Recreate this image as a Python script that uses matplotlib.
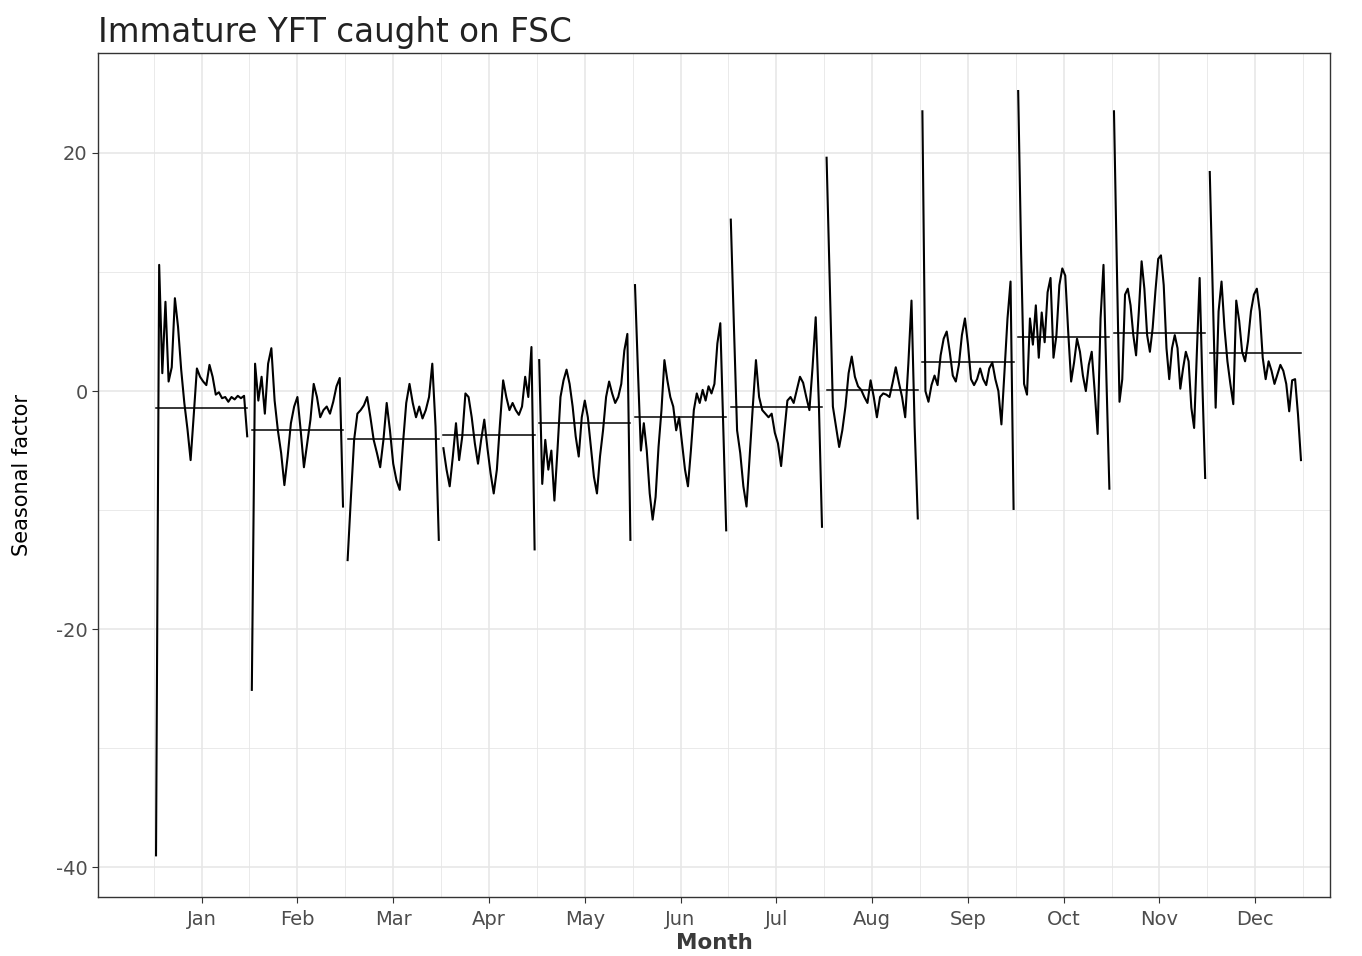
import numpy as np
import matplotlib
matplotlib.use("Agg")
import matplotlib.pyplot as plt

months = ["Jan", "Feb", "Mar", "Apr", "May", "Jun", "Jul", "Aug", "Sep", "Oct", "Nov", "Dec"]

# seasonal factors, one list per month
jan = [-39.0, 10.6, 1.5, 7.5, 0.8, 2.0, 7.8, 5.4, 1.8, -1.0, -3.2, -5.8, -2.0, 1.9, 1.2, 0.8,
       0.5, 2.2, 1.2, -0.3, -0.1, -0.6, -0.5, -0.9, -0.5, -0.7, -0.4, -0.6, -0.4, -3.8]
feb = [-25.1, 2.3, -0.8, 1.2, -1.9, 2.3, 3.6, -0.8, -3.3, -5.2, -7.9, -5.5, -2.7, -1.3, -0.5,
       -3.3, -6.4, -4.4, -2.4, 0.6, -0.5, -2.2, -1.6, -1.3, -1.9, -0.9, 0.4, 1.1, -9.7]
mar = [-14.2, -9.0, -4.1, -1.9, -1.6, -1.2, -0.5, -2.2, -4.1, -5.2, -6.4, -4.1, -1.0, -3.3, -6.1,
       -7.5, -8.3, -4.4, -1.0, 0.6, -1.0, -2.2, -1.3, -2.3, -1.6, -0.5, 2.3, -3.0, -12.5]
apr = [-4.8, -6.6, -8.0, -5.5, -2.7, -5.8, -3.8, -0.2, -0.5, -2.2, -4.4, -6.1, -4.1, -2.4, -4.8,
       -6.9, -8.6, -6.6, -2.7, 0.9, -0.5, -1.6, -1.0, -1.6, -2.0, -1.3, 1.2, -0.5, 3.7, -13.3]
may = [2.6, -7.8, -4.1, -6.6, -5.0, -9.2, -5.0, -0.5, 0.9, 1.8, 0.6, -1.3, -3.8, -5.5, -2.2, -0.8,
       -2.2, -4.7, -7.2, -8.6, -5.5, -3.3, -0.5, 0.8, -0.2, -1.0, -0.5, 0.6, 3.4, 4.8, -12.5]
jun = [8.9, 1.7, -5.0, -2.7, -5.0, -8.6, -10.8, -8.9, -4.7, -1.6, 2.6, 0.9, -0.5, -1.3, -3.3, -2.2,
       -4.4, -6.6, -8.0, -5.0, -1.6, -0.2, -1.0, 0.1, -0.8, 0.4, -0.2, 0.6, 4.0, 5.7, -3.0, -11.7]
jul = [14.4, 5.4, -3.3, -5.2, -8.0, -9.7, -5.5, -1.3, 2.6, -0.5, -1.6, -1.9, -2.2, -1.9, -3.5,
       -4.4, -6.3, -3.5, -0.8, -0.5, -1.0, 0.1, 1.2, 0.7, -0.5, -1.6, 2.0, 6.2, -1.0, -11.4]
aug = [19.6, 9.2, -1.3, -3.0, -4.7, -3.3, -1.3, 1.5, 2.9, 1.2, 0.4, 0.1, -0.5, -1.0, 0.9, -0.5,
       -2.2, -0.5, -0.2, -0.3, -0.5, 0.7, 2.0, 0.7, -0.5, -2.2, 2.3, 7.6, -3.0, -10.7]
sep = [23.5, 0.0, -0.9, 0.5, 1.3, 0.5, 3.0, 4.4, 5.0, 3.3, 1.3, 0.8, 2.2, 4.7, 6.1, 3.9, 1.0,
       0.5, 1.0, 1.9, 1.0, 0.5, 1.9, 2.4, 1.0, 0.0, -2.8, 1.6, 6.1, 9.2, -9.9]
oct = [25.2, 11.6, 0.6, -0.3, 6.1, 3.9, 7.2, 2.8, 6.6, 4.1, 8.3, 9.5, 2.8, 4.7, 8.9, 10.3, 9.7,
       5.0, 0.8, 2.4, 4.4, 3.3, 1.3, 0.0, 2.2, 3.3, 0.0, -3.6, 6.1, 10.6, 1.0, -8.2]
nov = [23.5, 11.0, -0.9, 1.0, 8.1, 8.6, 7.2, 4.7, 3.0, 6.7, 10.9, 8.6, 4.7, 3.3, 5.3, 8.4, 11.1,
       11.4, 8.9, 3.6, 1.0, 3.6, 4.7, 3.6, 0.2, 1.9, 3.3, 2.5, -1.4, -3.1, 3.3, 9.5, 0.5, -7.3]
dec = [18.4, 8.4, -1.4, 6.7, 9.2, 5.3, 2.5, 0.6, -1.1, 7.6, 5.9, 3.3, 2.5, 4.2, 6.7, 8.1, 8.6,
       6.7, 2.8, 1.0, 2.5, 1.7, 0.6, 1.4, 2.2, 1.7, 0.6, -1.7, 0.9, 1.0, -2.0, -5.8]

month_means = [-1.4, -3.3, -4.0, -3.7, -2.7, -2.2, -1.3, 0.1, 2.4, 4.5, 4.9, 3.2]
y_ticks = [-40, -20, 0, 20]

series = [jan, feb, mar, apr, may, jun, jul, aug, sep, oct, nov, dec]

fig = plt.figure(figsize=(13.62, 9.56), dpi=100)
ax = fig.add_axes([0.072, 0.0617, 0.9045, 0.8829])

grid_col = "#e6e6e6"
for x in range(1, 14):
    ax.axvline(x, color=grid_col, lw=0.6, zorder=0)
for x in np.arange(1.5, 13, 1):
    ax.axvline(x, color=grid_col, lw=1.1, zorder=0)
for y in [-30, -10, 10]:
    ax.axhline(y, color=grid_col, lw=0.6, zorder=0)
for y in y_ticks:
    ax.axhline(y, color=grid_col, lw=1.1, zorder=0)

for i, vals in enumerate(series):
    s = i + 1
    xs = s + 0.025 + np.linspace(0, 0.952, len(vals))
    ax.plot(xs, vals, color="black", lw=1.5, zorder=3)
    ax.plot([s + 0.025, s + 0.977], [month_means[i], month_means[i]], color="black", lw=1.1, zorder=4)

ax.set_xlim(0.42, 13.28)
ax.set_ylim(-42.5, 28.4)
ax.set_xticks(np.arange(1.5, 13, 1))
ax.set_xticklabels(months)
ax.set_yticks(y_ticks)
ax.set_yticklabels([str(v) for v in y_ticks])
ax.tick_params(axis="both", colors="#333333", labelcolor="#4d4d4d", labelsize=14, length=4, width=0.8)
ax.tick_params(axis="x", pad=5)

for sp in ax.spines.values():
    sp.set_color("#333333")
    sp.set_linewidth(1.0)

ax.set_xlabel("Month", fontsize=15.5, fontweight="bold", color="#3a3a3a", labelpad=3)
ax.set_ylabel("Seasonal factor", fontsize=15, labelpad=17)
ax.set_title("Immature YFT caught on FSC", loc="left", fontsize=23.5, pad=8, color="#222222")

fig.savefig("out.png", dpi=100)
